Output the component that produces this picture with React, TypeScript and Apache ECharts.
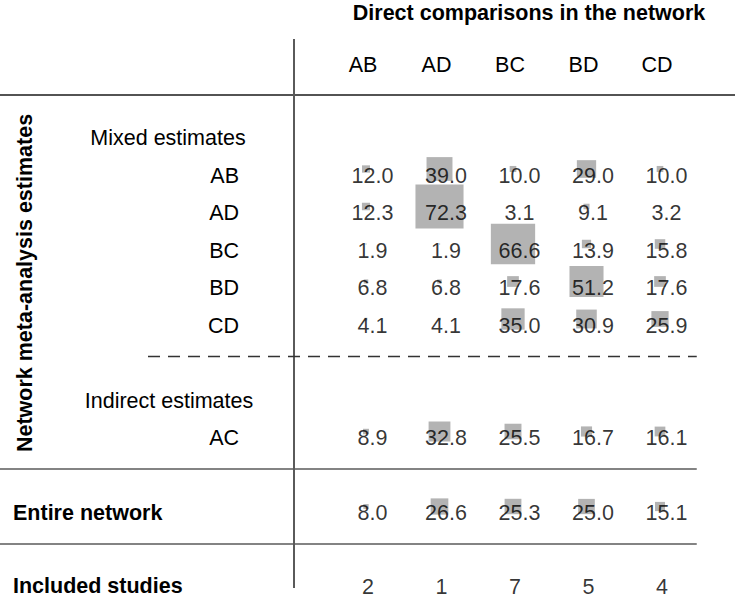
import React, { useEffect, useRef } from "react";
import * as echarts from "echarts";

// ---- data ----
const columns = ["AB", "AD", "BC", "BD", "CD"];
const mixedRowNames = ["AB", "AD", "BC", "BD", "CD"];
const mixedAB = [12.0, 39.0, 10.0, 29.0, 10.0];
const mixedAD = [12.3, 72.3, 3.1, 9.1, 3.2];
const mixedBC = [1.9, 1.9, 66.6, 13.9, 15.8];
const mixedBD = [6.8, 6.8, 17.6, 51.2, 17.6];
const mixedCD = [4.1, 4.1, 35.0, 30.9, 25.9];
const indirectRowNames = ["AC"];
const indirectAC = [8.9, 32.8, 25.5, 16.7, 16.1];
const entireNetwork = [8.0, 26.6, 25.3, 25.0, 15.1];
const includedStudies = [2, 1, 7, 5, 4];

// table rows (category axis, top to bottom)
const tableRows = [
  "Mixed estimates",
  "AB", "AD", "BC", "BD", "CD",
  "gap1",
  "Indirect estimates",
  "AC",
  "gap2",
  "Entire network",
  "gap3",
  "Included studies",
];
const estimateCodes = [...mixedRowNames, ...indirectRowNames];

const FONT = "'Liberation Sans', Arial, Helvetica, sans-serif";
const FS = 21.5;

export default function App() {
  const ref = useRef<HTMLDivElement>(null);

  useEffect(() => {
    document.body.style.margin = "0";
    const chart = echarts.init(ref.current!, undefined, { renderer: "svg" });

    const valueRows: { row: number; vals: number[] }[] = [
      { row: tableRows.indexOf("AB"), vals: mixedAB },
      { row: tableRows.indexOf("AD"), vals: mixedAD },
      { row: tableRows.indexOf("BC"), vals: mixedBC },
      { row: tableRows.indexOf("BD"), vals: mixedBD },
      { row: tableRows.indexOf("CD"), vals: mixedCD },
      { row: tableRows.indexOf("AC"), vals: indirectAC },
      { row: tableRows.indexOf("Entire network"), vals: entireNetwork },
    ];
    const cells: any[] = [];
    valueRows.forEach((r) =>
      r.vals.forEach((v, c) => cells.push([c, r.row, v, v.toFixed(1)]))
    );
    const studyRow = tableRows.indexOf("Included studies");
    const studies = includedStudies.map((n, c) => [c, studyRow, n, String(n)]);

    // geometry (pixel layout of the table)
    const gridLeft = 335.75;
    const colW = 73.5;
    const rowH = 37.5;
    const gridTop = 138; // centre of first row (rows sit on the ticks)
    const gridW = colW * columns.length;
    const gridH = rowH * (tableRows.length - 1);
    const sqDy = 6.5;
    const ruleEnd = gridLeft + gridW - sqDy;
    const rowY = (name: string) => gridTop + rowH * tableRows.indexOf(name);

    const txt = (text: string, x: number, y: number, align: string, bold = false) => ({
      type: "text",
      x,
      y,
      style: {
        text,
        textAlign: align,
        textVerticalAlign: "middle",
        fontSize: FS,
        fontWeight: bold ? "bold" : "normal",
        fontFamily: FONT,
        fill: "#000",
      },
    });
    const line = (x1: number, y1: number, x2: number, y2: number, stroke: string, w: number, dash?: number[]) => ({
      type: "line",
      shape: { x1, y1, x2, y2 },
      style: { stroke, lineWidth: w, lineDash: dash },
      z: 0,
    });

    const labelStyle = {
      show: true,
      position: "inside",
      formatter: (p: any) => p.data[3],
      fontSize: FS,
      fontFamily: FONT,
      color: "#000",
    };

    chart.setOption({
      animation: false,
      grid: { left: gridLeft, top: gridTop, width: gridW, height: gridH },
      xAxis: {
        type: "category",
        data: columns,
        position: "top",
        boundaryGap: true,
        axisLine: { show: false },
        axisTick: { show: false },
        splitLine: { show: false },
        axisLabel: {
          fontSize: FS,
          fontFamily: FONT,
          color: "#000",
          margin: 62.5,
          padding: [0, 19, 0, 0],
        },
      },
      yAxis: {
        type: "category",
        data: tableRows,
        inverse: true,
        boundaryGap: false,
        axisLine: { show: false },
        axisTick: { show: false },
        splitLine: { show: false },
        axisLabel: {
          interval: 0,
          fontSize: FS,
          fontFamily: FONT,
          color: "#000",
          margin: 96.75,
          formatter: (v: string) => (estimateCodes.includes(v) ? v : ""),
        },
      },
      series: [
        {
          type: "scatter",
          data: cells,
          symbol: "rect",
          symbolSize: (v: number[]) => [v[2] * 0.665, v[2] * 0.61],
          symbolOffset: [-sqDy, -sqDy],
          itemStyle: { color: "#b3b3b3", opacity: 1 },
          silent: true,
          clip: false,
          z: 2,
        },
        {
          type: "scatter",
          data: cells,
          symbolSize: 1,
          itemStyle: { color: "rgba(0,0,0,0)" },
          silent: true,
          clip: false,
          z: 3,
          label: { ...labelStyle },
        },
        {
          type: "scatter",
          data: studies,
          symbolSize: 1,
          itemStyle: { color: "rgba(0,0,0,0)" },
          silent: true,
          clip: false,
          z: 3,
          label: { ...labelStyle, offset: [-4.5, -1.5] },
        },
      ],
      graphic: [
        txt("Direct comparisons in the network", 529, 13, "center", true),
        {
          type: "text",
          x: 25,
          y: 283,
          rotation: Math.PI / 2,
          style: {
            text: "Network meta-analysis estimates",
            textAlign: "center",
            textVerticalAlign: "middle",
            fontSize: FS,
            fontWeight: "bold",
            fontFamily: FONT,
            fill: "#000",
          },
        },
        txt("Mixed estimates", 168, rowY("Mixed estimates"), "center"),
        txt("Indirect estimates", 169, rowY("Indirect estimates"), "center"),
        txt("Entire network", 13, rowY("Entire network"), "left", true),
        txt("Included studies", 13, rowY("Included studies") - 2.5, "left", true),
        line(0, 95, 735, 95, "#1a1a1a", 1.5),
        line(294, 39, 294, 588, "#5a5a5a", 2),
        line(148, rowY("gap1") - sqDy, ruleEnd, rowY("gap1") - sqDy, "#333", 1.3, [12, 8]),
        line(0, rowY("gap2") - sqDy, ruleEnd, rowY("gap2") - sqDy, "#5a5a5a", 1.5),
        line(0, rowY("gap3") - sqDy, ruleEnd, rowY("gap3") - sqDy, "#5a5a5a", 1.5),
      ],
    });

    return () => chart.dispose();
  }, []);

  return <div ref={ref} style={{ width: 735, height: 598 }} />;
}
